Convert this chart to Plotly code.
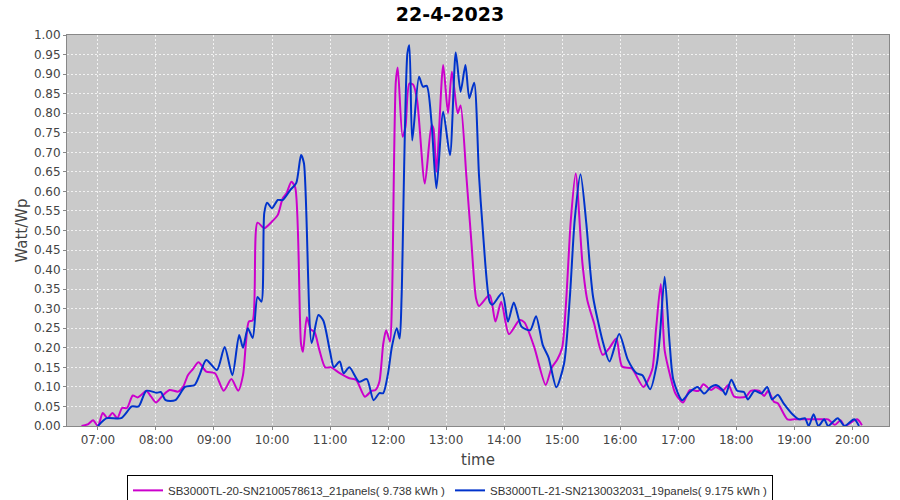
import plotly.graph_objects as go

DAY = "2023-04-22 "

# SB3000TL-20 (magenta)
t_20 = ["06:43", "06:50", "06:55", "07:00", "07:05", "07:10", "07:15", "07:20", "07:25", "07:30",
        "07:36", "07:41", "07:45", "07:50", "07:55", "08:00", "08:07", "08:14", "08:23", "08:28",
        "08:33", "08:38", "08:44", "08:52", "09:01", "09:10", "09:18", "09:25", "09:30", "09:33",
        "09:36", "09:40", "09:45", "09:52", "10:00", "10:06", "10:11", "10:15", "10:20", "10:24",
        "10:30", "10:32", "10:36", "10:40", "10:44", "10:49", "10:55", "11:01", "11:10", "11:20",
        "11:27", "11:36", "11:43", "11:47", "11:51", "11:55", "11:58", "12:02", "12:04", "12:08",
        "12:10", "12:15", "12:18", "12:22", "12:26", "12:30", "12:38", "12:45", "12:47", "12:50",
        "12:57", "13:02", "13:06", "13:12", "13:15", "13:21", "13:26", "13:31", "13:34", "13:45",
        "13:51", "13:57", "14:05", "14:16", "14:21", "14:31", "14:43", "14:49", "14:55", "15:00",
        "15:04", "15:09", "15:14", "15:21", "15:26", "15:33", "15:42", "15:49", "15:56", "16:02",
        "16:12", "16:24", "16:33", "16:37", "16:42", "16:46", "16:52", "16:57", "17:05", "17:12",
        "17:21", "17:26", "17:34", "17:39", "17:46", "17:52", "17:58", "18:10", "18:15", "18:24",
        "18:29", "18:33", "18:39", "18:43", "18:53", "19:00", "19:15", "19:30", "19:35", "19:42",
        "19:48", "19:52", "20:05", "20:10"]
v_20 = [0.0, 0.005, 0.015, 0.0, 0.033, 0.02, 0.033, 0.02, 0.046, 0.046,
        0.078, 0.073, 0.08, 0.09, 0.075, 0.06, 0.078, 0.092, 0.088, 0.1,
        0.13, 0.145, 0.163, 0.139, 0.135, 0.09, 0.12, 0.09, 0.13, 0.212,
        0.267, 0.27, 0.52, 0.506, 0.523, 0.54, 0.582, 0.595, 0.625, 0.61,
        0.21, 0.19, 0.278, 0.247, 0.24, 0.194, 0.15, 0.15, 0.135, 0.122,
        0.118, 0.075, 0.09, 0.092, 0.113, 0.21, 0.245, 0.216, 0.314, 0.88,
        0.917, 0.74, 0.765, 0.876, 0.873, 0.834, 0.62, 0.77, 0.76, 0.65,
        0.923, 0.8, 0.906, 0.8, 0.82, 0.638, 0.476, 0.326, 0.307, 0.335,
        0.267, 0.318, 0.235, 0.271, 0.265, 0.203, 0.105, 0.148, 0.17, 0.2,
        0.314, 0.527, 0.646, 0.416, 0.322, 0.263, 0.182, 0.2, 0.224, 0.152,
        0.147, 0.1, 0.143, 0.245, 0.363, 0.194, 0.126, 0.084, 0.06, 0.092,
        0.09, 0.107, 0.092, 0.1, 0.09, 0.105, 0.075, 0.075, 0.09, 0.09,
        0.077, 0.09, 0.062, 0.058, 0.017, 0.017, 0.017, 0.017, 0.017, 0.003,
        0.015, 0.0, 0.017, 0.002]

# SB3000TL-21 (blue)
t_21 = ["07:00", "07:09", "07:24", "07:35", "07:42", "07:50", "08:01", "08:05", "08:10", "08:20",
        "08:30", "08:40", "08:45", "08:52", "09:03", "09:11", "09:19", "09:26", "09:30", "09:35",
        "09:40", "09:45", "09:49", "09:52", "09:55", "10:00", "10:06", "10:11", "10:19", "10:25",
        "10:30", "10:33", "10:41", "10:48", "10:53", "11:00", "11:04", "11:10", "11:14", "11:20",
        "11:30", "11:38", "11:45", "11:51", "11:55", "12:00", "12:04", "12:09", "12:12", "12:14",
        "12:20", "12:22", "12:25", "12:32", "12:36", "12:40", "12:45", "12:50", "12:57", "13:04",
        "13:10", "13:15", "13:20", "13:24", "13:29", "13:34", "13:38", "13:45", "13:48", "13:58",
        "14:04", "14:10", "14:18", "14:27", "14:33", "14:40", "14:46", "14:54", "15:02", "15:08",
        "15:13", "15:19", "15:25", "15:29", "15:32", "15:42", "15:49", "15:59", "16:08", "16:17",
        "16:23", "16:31", "16:38", "16:41", "16:46", "16:51", "16:55", "17:04", "17:12", "17:20",
        "17:27", "17:34", "17:39", "17:46", "17:49", "17:55", "18:01", "18:08", "18:12", "18:19",
        "18:26", "18:32", "18:37", "18:43", "18:49", "18:59", "19:05", "19:11", "19:15", "19:20",
        "19:25", "19:31", "19:35", "19:45", "19:52", "20:02", "20:07"]
v_21 = [0.0, 0.02, 0.02, 0.05, 0.05, 0.09, 0.085, 0.087, 0.066, 0.066,
        0.1, 0.105, 0.13, 0.169, 0.143, 0.202, 0.13, 0.233, 0.2, 0.25,
        0.225, 0.33, 0.318, 0.545, 0.571, 0.557, 0.578, 0.578, 0.604, 0.621,
        0.693, 0.672, 0.212, 0.284, 0.27, 0.19, 0.15, 0.165, 0.135, 0.15,
        0.113, 0.12, 0.066, 0.084, 0.084, 0.135, 0.203, 0.25, 0.224, 0.33,
        0.953, 0.974, 0.73, 0.893, 0.868, 0.87, 0.774, 0.608, 0.804, 0.693,
        0.955, 0.855, 0.923, 0.838, 0.878, 0.642, 0.5, 0.318, 0.31, 0.34,
        0.267, 0.316, 0.254, 0.245, 0.281, 0.207, 0.175, 0.099, 0.16, 0.33,
        0.527, 0.644, 0.518, 0.4, 0.33, 0.216, 0.165, 0.235, 0.169, 0.135,
        0.13, 0.094, 0.16, 0.228, 0.382, 0.216, 0.118, 0.066, 0.087, 0.1,
        0.083, 0.1, 0.105, 0.092, 0.08, 0.118, 0.09, 0.087, 0.068, 0.09,
        0.083, 0.1, 0.068, 0.08, 0.058, 0.028, 0.017, 0.02, 0.0, 0.03,
        0.0, 0.017, 0.0, 0.02, 0.0, 0.017, 0.0]

names = ["SB3000TL-20-SN2100578613_21panels( 9.738 kWh )",
         "SB3000TL-21-SN2130032031_19panels( 9.175 kWh )"]
colors = ["#cc00cc", "#0033cc"]

fig = go.Figure()
for t, v, name, col in [(t_20, v_20, names[0], colors[0]), (t_21, v_21, names[1], colors[1])]:
    fig.add_trace(go.Scatter(x=[DAY + s for s in t], y=v, name=name, mode="lines",
                             line=dict(color=col, width=2, shape="spline", smoothing=0.7)))

font = "DejaVu Sans"
fig.update_layout(
    width=900, height=500,
    margin=dict(l=67, r=11, t=35, b=74, autoexpand=False),
    paper_bgcolor="white", plot_bgcolor="#cacaca",
    title=dict(text="<b>22-4-2023</b>", x=0.5, xanchor="center", y=0.972, yanchor="middle",
               font=dict(family=font, size=19, color="black")),
    font=dict(family=font, size=12, color="#444444"),
    showlegend=True,
    legend=dict(orientation="h", xref="container", x=0.5, xanchor="center", y=-0.125, yanchor="top",
                bordercolor="black", borderwidth=1, bgcolor="white",
                font=dict(family="Liberation Sans", size=11.5, color="#333333"),
                itemwidth=30, tracegroupgap=0),
    xaxis=dict(type="date", range=[DAY + "06:28", DAY + "20:38"],
               dtick=3600000, tickformat="%H:%M",
               showgrid=True, gridcolor="#f2f2f2", griddash="2px,2px", gridwidth=1,
               ticks="outside", ticklen=3, tickcolor="#888888",
               showline=True, linecolor="#888888", mirror=True, zeroline=False,
               title=dict(text="time", font=dict(family=font, size=15, color="#444444"), standoff=8)),
    yaxis=dict(range=[0, 1], dtick=0.05, tickformat=".2f",
               showgrid=True, gridcolor="#f2f2f2", griddash="2px,2px", gridwidth=1,
               ticks="outside", ticklen=3, tickcolor="#888888",
               showline=True, linecolor="#888888", mirror=True, zeroline=False,
               title=dict(text="Watt/Wp", font=dict(family=font, size=15, color="#444444"), standoff=2)),
)

# the page body has a default 8px margin; drop it so the figure sits at the window corner
fig.write_html("out.html", config={"displayModeBar": False},
               post_script="document.body.style.margin='0';")
